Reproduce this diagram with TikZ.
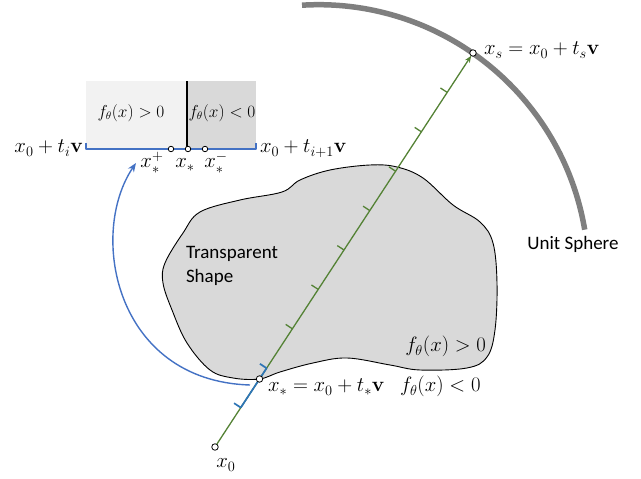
\documentclass[tikz,border=0pt]{standalone}
\usepackage{amsmath,amssymb,bm}
\usepackage[no-math]{fontspec}
\setmainfont{Carlito}
\usetikzlibrary{arrows.meta,calc}
\definecolor{SphereGray}{HTML}{7F7F7F}
\definecolor{ShapeFill}{HTML}{D9D9D9}
\definecolor{BoxLight}{HTML}{F2F2F2}
\definecolor{BoxDark}{HTML}{D9D9D9}
\definecolor{RayGreen}{HTML}{548235}
\definecolor{SearchBlue}{HTML}{2E75B6}
\definecolor{LinkBlue}{HTML}{4472C4}
\tikzset{
    march/diagram/.style={
        font=\fontsize{21}{25}\selectfont,
        line join=round,
        every node/.style={inner sep=0pt, outer sep=0pt}
    },
    march/sphere/.style={draw=SphereGray, line width=5.5pt},
    march/shape/.style={fill=ShapeFill, draw=black, line width=0.9pt},
    march/ray/.style={
        draw=RayGreen, line width=1.3pt,
        -{Stealth[length=7pt, width=5.5pt]}
    },
    march/tick/.style={draw=RayGreen, line width=1.3pt},
    march/search/.style={draw=SearchBlue, line width=1.7pt},
    march/split/.style={draw=black, line width=1.2pt},
    march/bracket/.style={draw=LinkBlue, line width=1.5pt},
    march/link/.style={
        draw=LinkBlue, line width=1.4pt,
        -{Stealth[length=9pt, width=7pt]}
    },
    march/point/.style={
        circle, draw=black, fill=white, line width=0.8pt, minimum size=6.5pt
    },
    march/sample/.style={march/point, minimum size=5.5pt},
    march/small/.style={font=\fontsize{16}{19}\selectfont},
    march/text/.style={font=\fontsize{19}{24}\selectfont}
}

\begin{document}
\begin{tikzpicture}[march/diagram, x=1pt, y=1pt]
    \useasboundingbox (0,0) rectangle (641,479);
    \def\ShapeBoundary{
        plot[smooth cycle, tension=0.6] coordinates {
            (259.5,100) (233,101) (210,109) (187,136) (172,169) (163,196)
            (165,216) (183,246) (200,267) (240,279) (282,287) (300,299)
            (330,309) (370,314) (397,312) (423,301) (453,274) (480,257)
            (493,236) (497,196) (495,149) (487,122) (467,111) (420,109)
            (390,114) (347,121) (313,116) (280,107)
        }
    }
    \path[march/shape] \ShapeBoundary;
    \draw[march/sphere] (318.5,204.3) ++(93.5:270)
        arc[start angle=93.5, end angle=9.6, radius=270];
    \fill[BoxLight] (86,330) rectangle (187,398);
    \fill[BoxDark] (187,330) rectangle (256,398);
    \draw[march/split] (187,330) -- (187,398);
    \draw[march/bracket] (86,336) -- (86,330) -- (256,330) -- (256,336);
    \node[march/small] (fpos) at (131,366) {$f_\theta(x)>0$};
    \node[march/small] (fneg) at (222,366) {$f_\theta(x)<0$};
    \node[march/sample] (pplus) at (171,330) {};
    \node[march/sample] (pstar) at (188,330) {};
    \node[march/sample] (pminus) at (205,330) {};
    \node[anchor=base] (lplus) at (152,311) {$x_*^+$};
    \node[anchor=base] (lstar) at (185,311) {$x_*$};
    \node[anchor=base] (lminus) at (216,311) {$x_*^-$};
    \node[anchor=base east] (ti) at (83,326) {$x_0+t_i\mathbf{v}$};
    \node[anchor=base west] (tnext) at (260,326) {$x_0+t_{i+1}\mathbf{v}$};
    \node[march/point] (x0) at (215,32) {};
    \node[march/point] (xs) at (473,426) {};
    \draw[march/ray] (x0) -- (xs);
    \draw[march/search] ($(x0)!0.1!(xs)$) -- ($(x0)!0.2!(xs)$);
    \foreach \k in {3,...,9}
        \draw[march/tick] ($(x0)!\k/10!(xs)$) -- ++(-6.7,4.4);
    \foreach \k in {1,2}
        \draw[march/search] ($(x0)!\k/10!(xs)$) -- ++(-6.7,4.4);
    \node[march/point] (xstar) at ($(x0)!0.1726!(xs)$) {};
    \coordinate (linkstart) at (250,94);
    \coordinate (linkend) at (136,316);
    \draw[march/link] (linkstart)
        .. controls (115,98) and (88,245) .. (linkend);
    \node[anchor=base west] (xslabel) at (484,424) {$x_s = x_0 + t_s\mathbf{v}$};
    \node[anchor=base west] (xstarlabel) at (268,87) {$x_* = x_0 + t_*\mathbf{v}$};
    \node[anchor=base west] (outside) at (400,87) {$f_\theta(x)<0$};
    \node[anchor=base east] (inside) at (486,127) {$f_\theta(x)>0$};
    \node[march/text, anchor=north west, align=left] (shapelabel) at (186,233)
        {Transparent\\Shape};
    \node[march/text] (spherelabel) at (573,235) {Unit Sphere};
    \node[anchor=base] (x0label) at (226,11) {$x_0$};
\end{tikzpicture}
\end{document}
